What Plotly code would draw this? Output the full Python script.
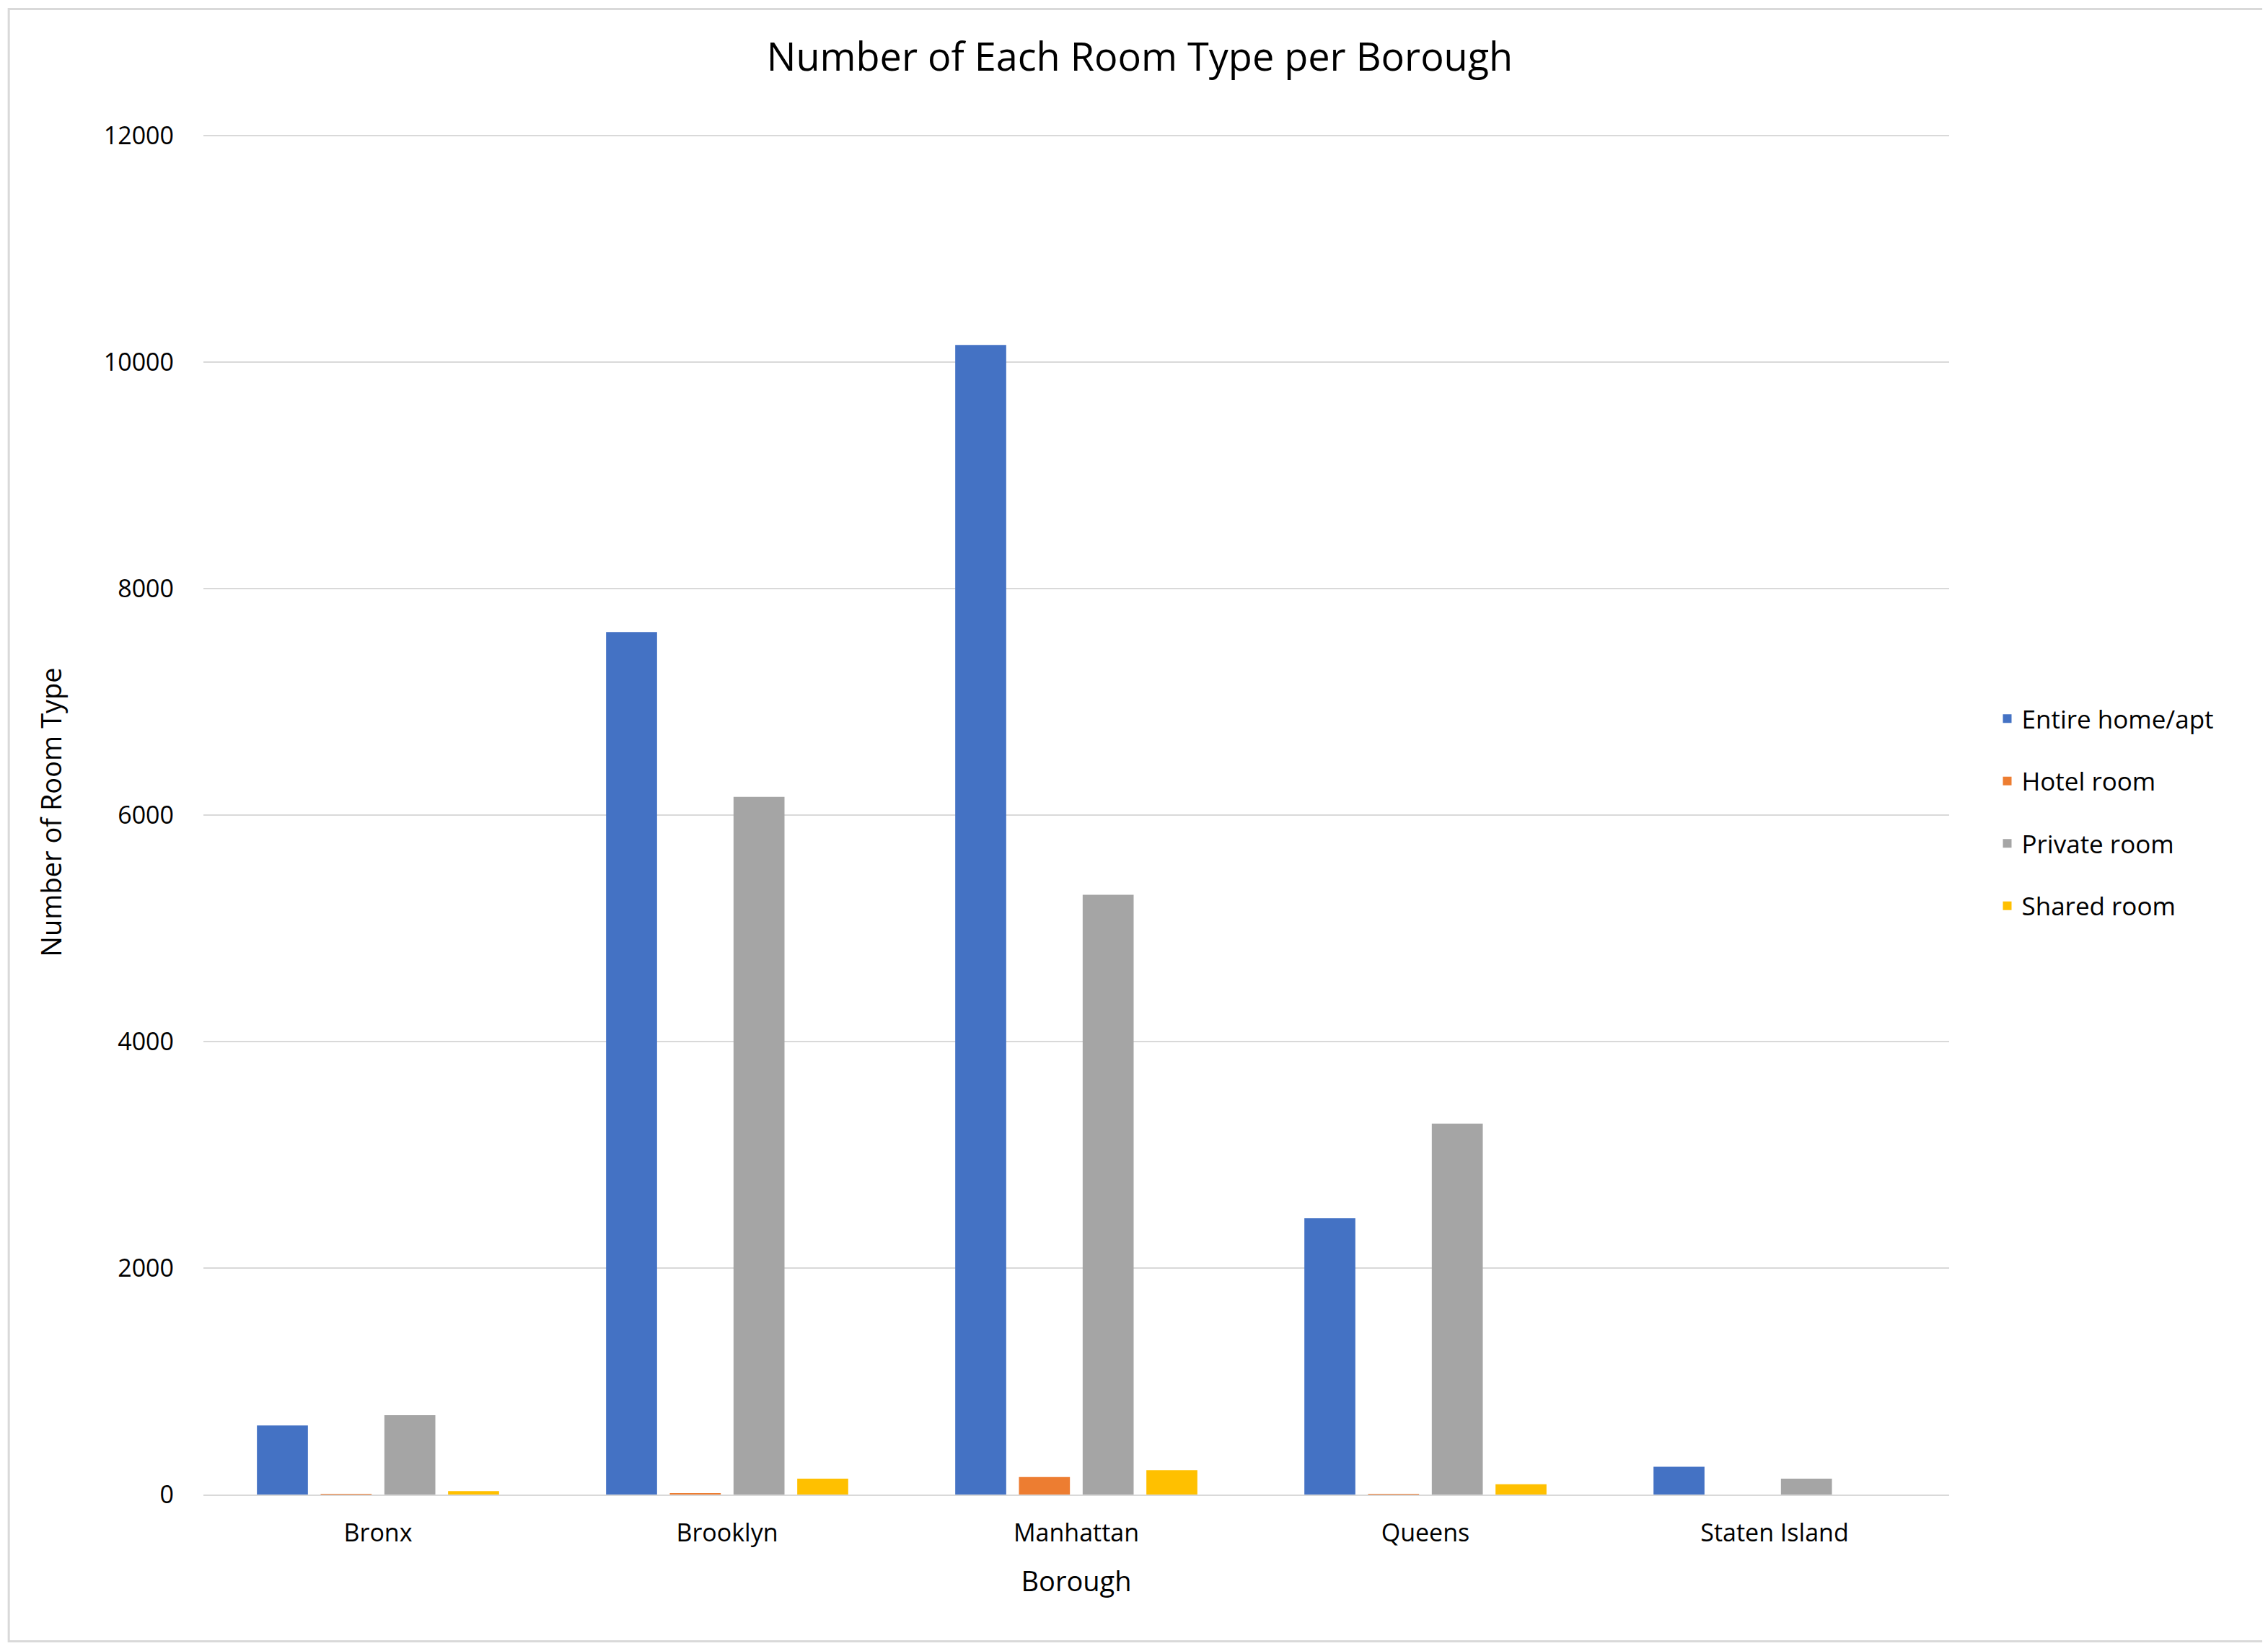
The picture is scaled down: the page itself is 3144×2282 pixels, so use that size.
import plotly.graph_objects as go

boroughs = ["Bronx", "Brooklyn", "Manhattan", "Queens", "Staten Island"]
entire = [610, 7615, 10150, 2440, 245]
hotel = [5, 10, 155, 5, 0]
private = [700, 6160, 5295, 3275, 140]
shared = [30, 140, 215, 90, 0]
series = [("Entire home/apt", entire, "#4472C4"), ("Hotel room", hotel, "#ED7D31"),
          ("Private room", private, "#A5A5A5"), ("Shared room", shared, "#FFC000")]

fig = go.Figure()
for name, vals, col in series:
    fig.add_trace(go.Bar(name=name, x=boroughs, y=vals, marker_color=col, marker_line_width=0,
                         legendgroup=name))

fig.update_layout(
    width=3144, height=2282, paper_bgcolor="white", plot_bgcolor="white",
    font=dict(family="Open Sans, Liberation Sans, sans-serif", size=34, color="#000"),
    title=dict(text="Number of Each Room Type per Borough", x=0.5, xanchor="center", y=0.977, yanchor="top",
               font=dict(size=54)),
    margin=dict(l=274, r=450, t=172, b=218),
    barmode="group", bargap=0.27, bargroupgap=0.2,
    legend=dict(x=1.025, y=0.5, xanchor="left", yanchor="middle", font=dict(size=35),
                traceorder="grouped", tracegroupgap=38, itemwidth=30),
    xaxis=dict(title=dict(text="Borough", font=dict(size=38), standoff=34), showline=True,
               linecolor="#D9D9D9", linewidth=2, ticks="", ticklabelstandoff=22),
    yaxis=dict(title=dict(text="Number of Room Type", font=dict(size=38), standoff=46),
               range=[0, 12050], tickvals=[0, 2000, 4000, 6000, 8000, 10000, 12000],
               ticktext=["0", "2000", "4000", "6000", "8000", "10000", "12000"],
               gridcolor="#D9D9D9", gridwidth=2, zeroline=False,
               ticklabelstandoff=40),
    shapes=[dict(type="rect", xref="paper", yref="paper", x0=-0.1115, x1=1.1875, y0=-0.1075, y1=1.0885,
                 line=dict(color="#D9D9D9", width=3))],
)
fig.write_html("out.html")
